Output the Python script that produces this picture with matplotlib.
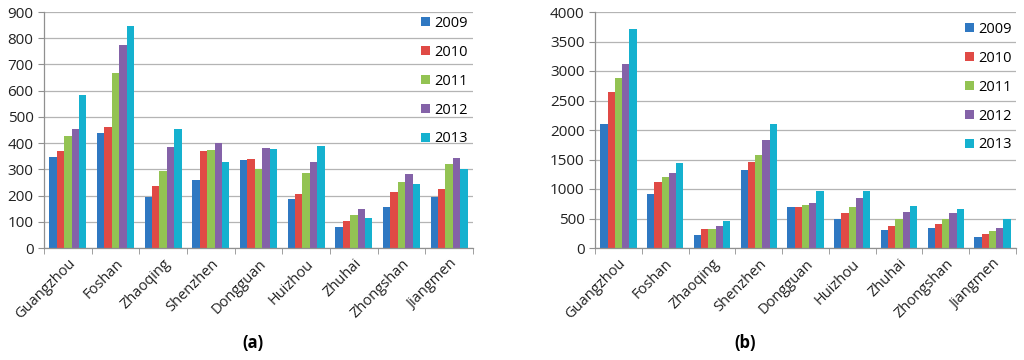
import numpy as np
import matplotlib.pyplot as plt

plt.rcParams['font.family'] = ['Open Sans', 'DejaVu Sans']

cities = ['Guangzhou', 'Foshan', 'Zhaoqing', 'Shenzhen', 'Dongguan',
          'Huizhou', 'Zhuhai', 'Zhongshan', 'Jiangmen']
years = ['2009', '2010', '2011', '2012', '2013']
colors = ['#2f78c2', '#e04a45', '#93c353', '#8462a8', '#15b1cf']

# (a) values per year, one entry per city
a_2009 = [346, 437, 193, 259, 336, 186, 81, 156, 193]
a_2010 = [371, 463, 236, 371, 339, 205, 104, 214, 225]
a_2011 = [428, 666, 295, 374, 301, 285, 125, 250, 319]
a_2012 = [455, 773, 385, 402, 383, 328, 150, 282, 343]
a_2013 = [582, 847, 455, 328, 376, 389, 116, 245, 301]

# (b) values per year
b_2009 = [2102, 910, 215, 1328, 689, 492, 311, 345, 192]
b_2010 = [2639, 1113, 316, 1463, 701, 588, 373, 412, 243]
b_2011 = [2882, 1198, 328, 1582, 729, 701, 497, 497, 283]
b_2012 = [3113, 1277, 367, 1825, 768, 842, 605, 593, 333]
b_2013 = [3718, 1446, 452, 2107, 960, 972, 706, 667, 497]

fig = plt.figure(figsize=(10.24, 3.6), dpi=100)


def panel(rect, series, ymax, step, caption, cap_x, leg_anchor):
    ax = fig.add_axes(rect)
    x = np.arange(len(cities))
    w = 0.155
    for i, vals in enumerate(series):
        ax.bar(x + (i - 2) * w, vals, w, color=colors[i], label=years[i], zorder=2)
    ax.set_xlim(-0.5, len(cities) - 0.5)
    ax.set_ylim(0, ymax)
    ax.set_yticks(np.arange(0, ymax + 1, step))
    ax.grid(axis='y', color='#b4b4b4', lw=0.9, zorder=0)
    ax.set_xticks(x)
    ax.set_xticklabels(cities, rotation=45, ha='right', rotation_mode='anchor')
    ax.set_xticks(np.arange(-0.5, len(cities), 1), minor=True)
    ax.tick_params(axis='x', which='major', length=0, pad=6, labelsize=10.5, colors='#222222')
    ax.tick_params(axis='x', which='minor', length=4, color='#909090')
    ax.tick_params(axis='y', length=4, color='#909090', labelsize=11, labelcolor='#222222')
    for s in ['top', 'right']:
        ax.spines[s].set_visible(False)
    for s in ['left', 'bottom']:
        ax.spines[s].set_color('#909090')
        ax.spines[s].set_linewidth(0.9)
    ax.legend(loc='upper left', bbox_to_anchor=leg_anchor, bbox_transform=fig.transFigure,
              frameon=False, fontsize=10.5, handlelength=0.6, handleheight=0.6,
              handletextpad=0.3, labelspacing=0.95, borderpad=0, borderaxespad=0)
    fig.text(cap_x, 1 - 343 / 360, caption, ha='center', va='center',
             fontsize=12, fontweight='bold')
    return ax


panel([44 / 1024, 112 / 360, 429 / 1024, 236 / 360],
      [a_2009, a_2010, a_2011, a_2012, a_2013], 900, 100, '(a)', 253 / 1024,
      (421 / 1024, 1 - 16 / 360))
panel([595 / 1024, 112 / 360, 421 / 1024, 236 / 360],
      [b_2009, b_2010, b_2011, b_2012, b_2013], 4000, 500, '(b)', 745 / 1024,
      (965 / 1024, 1 - 22 / 360))

fig.savefig('out.png', dpi=100)
